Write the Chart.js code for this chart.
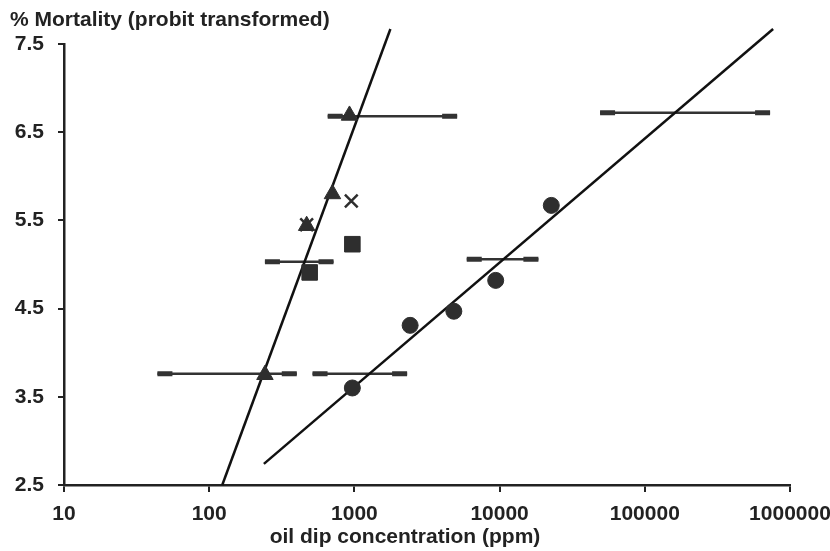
<!DOCTYPE html>
<html>
<head>
<meta charset="utf-8">
<script src="https://cdn.jsdelivr.net/npm/chart.js@4.4.1/dist/chart.umd.min.js"></script>
<style>
html,body{margin:0;padding:0;background:#fff;}
#c{display:block;}
</style>
</head>
<body>
<canvas id="c" width="830" height="551"></canvas>
<script>
// ---- data ----
const xTickLabels = [10, 100, 1000, 10000, 100000, 1000000];
const yTickLabels = [2.5, 3.5, 4.5, 5.5, 6.5, 7.5];

const triangleX = [242, 469, 706, 925];
const triangleY = [3.75, 5.44, 5.80, 6.69];

const crossX = [469, 952];
const crossY = [5.45, 5.72];

const squareX = [492, 968];
const squareY = [4.91, 5.23];

const circleX = [968, 2420, 4840, 9400, 22700];
const circleY = [3.60, 4.31, 4.47, 4.82, 5.67];

const fitAX = [123, 1770];
const fitAY = [2.5, 7.67];
const fitBX = [238, 765000];
const fitBY = [2.74, 7.67];

const errLow  = [655, 49200, 242, 5940, 44, 515];
const errHigh = [5100, 729000, 718, 18500, 401, 2307];
const errY    = [6.68, 6.72, 5.03, 5.06, 3.76, 3.76];

const xTitle = 'oil dip concentration (ppm)';
const yTitle = '% Mortality (probit transformed)';

// ---- styling ----
const INK = '#222';
const MARK = '#2e2e2e';
const FONT = "'Liberation Sans', Arial, sans-serif";

const pts = (xs, ys) => xs.map((x, i) => ({x: x, y: ys[i]}));

const datasets = [
  {label: 'triangles', data: pts(triangleX, triangleY), pointStyle: 'triangle', pointRadius: 9.5,
   backgroundColor: MARK, borderColor: MARK, borderWidth: 1, showLine: false},
  {label: 'crosses', data: pts(crossX, crossY), pointStyle: 'crossRot', pointRadius: 9,
   backgroundColor: MARK, borderColor: MARK, borderWidth: 2.5, showLine: false},
  {label: 'squares', data: pts(squareX, squareY), pointStyle: 'rect', pointRadius: 11,
   backgroundColor: MARK, borderColor: MARK, borderWidth: 1, showLine: false},
  {label: 'circles', data: pts(circleX, circleY), pointStyle: 'circle', pointRadius: 8,
   backgroundColor: MARK, borderColor: MARK, borderWidth: 1, showLine: false},
  {label: 'fitA', data: pts(fitAX, fitAY), showLine: true, pointRadius: 0, borderColor: '#111',
   borderWidth: 2.5, clip: false},
  {label: 'fitB', data: pts(fitBX, fitBY), showLine: true, pointRadius: 0, borderColor: '#111',
   borderWidth: 2.5, clip: false}
];
errY.forEach((y, i) => {
  datasets.push({label: 'err' + i, data: [{x: errLow[i], y: y}, {x: errHigh[i], y: y}],
    showLine: true, pointRadius: 0, borderColor: '#333', borderWidth: 2.5, clip: false});
});

const capsPlugin = {
  id: 'caps',
  beforeDatasetsDraw(chart) {
    const {ctx, scales} = chart;
    ctx.save();
    ctx.strokeStyle = '#333';
    ctx.lineWidth = 5;
    ctx.lineCap = 'butt';
    errY.forEach((y, i) => {
      const py = scales.y.getPixelForValue(y);
      const a = scales.x.getPixelForValue(errLow[i]);
      const b = scales.x.getPixelForValue(errHigh[i]);
      ctx.beginPath();
      ctx.moveTo(a, py); ctx.lineTo(a + 15, py);
      ctx.moveTo(b - 15, py); ctx.lineTo(b, py);
      ctx.stroke();
    });
    ctx.restore();
  },
  afterDraw(chart) {
    const {ctx} = chart;
    ctx.save();
    ctx.fillStyle = INK;
    ctx.font = 'bold 21px ' + FONT;
    ctx.textBaseline = 'alphabetic';
    ctx.textAlign = 'left';
    ctx.fillText(yTitle, 10, 26);
    ctx.textAlign = 'center';
    ctx.fillText(xTitle, 405, 543);
    ctx.restore();
  }
};

new Chart(document.getElementById('c'), {
  type: 'scatter',
  data: {datasets: datasets},
  plugins: [capsPlugin],
  options: {
    responsive: false,
    animation: false,
    layout: {padding: {top: 44, right: 40, left: 0, bottom: 0}},
    plugins: {legend: {display: false}, tooltip: {enabled: false}, title: {display: false}},
    scales: {
      x: {
        type: 'logarithmic', min: 10, max: 1000000,
        afterBuildTicks: s => { s.ticks = xTickLabels.map(v => ({value: v})); },
        afterFit: s => { s.height = 66; s.paddingLeft = 0; s.paddingRight = 0; },
        ticks: {callback: v => String(v), color: INK, font: {family: FONT, size: 21, weight: 'bold'},
                padding: 10, autoSkip: false, maxRotation: 0},
        grid: {display: true, drawOnChartArea: false, drawTicks: true, tickLength: 7, color: INK, lineWidth: 2},
        border: {display: true, color: INK, width: 2.5}
      },
      y: {
        type: 'linear', min: 2.5, max: 7.5,
        afterBuildTicks: s => { s.ticks = yTickLabels.map(v => ({value: v})); },
        afterFit: s => { s.width = 64; s.paddingTop = 0; s.paddingBottom = 0; },
        ticks: {callback: v => Number(v).toFixed(1), color: INK, font: {family: FONT, size: 21, weight: 'bold'},
                padding: 14},
        grid: {display: true, drawOnChartArea: false, drawTicks: true, tickLength: 6, color: INK, lineWidth: 2},
        border: {display: true, color: INK, width: 2.5}
      }
    }
  }
});
</script>
</body>
</html>
